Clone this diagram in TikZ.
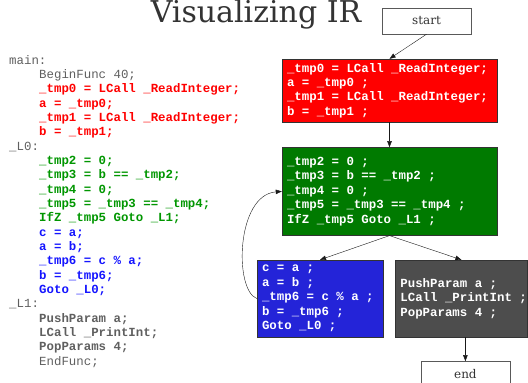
\documentclass[tikz,border=0pt]{standalone}
\usepackage{fontspec}
\setmainfont{DejaVu Serif}
\setmonofont{Liberation Mono}
\usetikzlibrary{arrows.meta,positioning}
\definecolor{codegray}{RGB}{95,95,95}
\definecolor{codered}{RGB}{255,0,0}
\definecolor{codegreen}{RGB}{0,150,0}
\definecolor{codeblue}{RGB}{20,20,255}
\definecolor{boxred}{RGB}{255,0,0}
\definecolor{boxgreen}{RGB}{0,122,0}
\definecolor{boxblue}{RGB}{36,36,216}
\definecolor{boxgray}{RGB}{77,77,77}
\newcommand{\ind}{\hspace*{30pt}}
\newcommand{\cl}[2]{\ind\textcolor{#1}{\textbf{#2}}}

\begin{document}
\begin{tikzpicture}[x=1pt,y=-1pt,node distance=25pt and 12pt,
  blk/.style={draw=black!80,text=white,align=flush left,inner xsep=5pt,inner ysep=0pt,font=\ttfamily\bfseries\fontsize{12.4}{14.4}\selectfont},
  term/.style={draw=black!65,minimum width=89pt,minimum height=26pt,inner sep=0pt,text=black!80,font=\fontsize{12}{14}\selectfont},
  arr/.style={-{Triangle[length=6pt,width=4.5pt]},black!90}]
\useasboundingbox (0,0) rectangle (528,383);

\node[text=black!80,font=\fontsize{30}{33}\selectfont,anchor=base] (title) at (256,22) {Visualizing IR};

% source listing
\node[anchor=north west,inner sep=0pt,align=left,text=codegray,font=\ttfamily\fontsize{12.4}{14.33}\selectfont] (code) at (9,55) {main:\\
\ind BeginFunc 40;\\
\cl{codered}{\_tmp0 = LCall \_ReadInteger;}\\
\cl{codered}{a = \_tmp0;}\\
\cl{codered}{\_tmp1 = LCall \_ReadInteger;}\\
\cl{codered}{b = \_tmp1;}\\
\_L0:\\
\cl{codegreen}{\_tmp2 = 0;}\\
\cl{codegreen}{\_tmp3 = b == \_tmp2;}\\
\cl{codegreen}{\_tmp4 = 0;}\\
\cl{codegreen}{\_tmp5 = \_tmp3 == \_tmp4;}\\
\cl{codegreen}{IfZ \_tmp5 Goto \_L1;}\\
\cl{codeblue}{c = a;}\\
\cl{codeblue}{a = b;}\\
\cl{codeblue}{\_tmp6 = c \% a;}\\
\cl{codeblue}{b = \_tmp6;}\\
\cl{codeblue}{Goto \_L0;}\\
\_L1:\\
\cl{codegray}{PushParam a;}\\
\cl{codegray}{LCall \_PrintInt;}\\
\cl{codegray}{PopParams 4;}\\
\ind EndFunc;};

% control flow graph
\node[term] (start) at (426.5,21) {start};
\node[blk,fill=boxred,text width=205pt,minimum height=63pt] (b0) at (389.5,90.5) {\_tmp0 = LCall \_ReadInteger;\\ a = \_tmp0 ;\\ \_tmp1 = LCall \_ReadInteger;\\ b = \_tmp1 ;};
\node[blk,fill=boxgreen,text width=205pt,minimum height=88pt,below=of b0] (b1) {\_tmp2 = 0 ;\\ \_tmp3 = b == \_tmp2 ;\\ \_tmp4 = 0 ;\\ \_tmp5 = \_tmp3 == \_tmp4 ;\\ IfZ \_tmp5 Goto \_L1 ;};
\node[blk,fill=boxblue,text width=116pt,minimum height=77pt] (b2) at (320,298.5) {c = a ;\\ a = b ;\\ \_tmp6 = c \% a ;\\ b = \_tmp6 ;\\ Goto \_L0 ;};
\node[blk,fill=boxgray,text width=122pt,minimum height=77pt,right=of b2] (b3) {PushParam~a~;\\ LCall~\_PrintInt~;\\ PopParams~4~;};
\node[term,below=24pt of b3,xshift=4pt] (finish) {end};

\draw[arr] (start.south) -- (b0.north);
\draw[arr] (b0) -- (b1);
\draw[arr] (b1.south) -- (b2.north);
\draw[arr] (b1.south) -- (b3.north);
\draw[arr] (finish.north |- b3.south) -- (finish.north);
\draw[arr] (b2.west) .. controls (234,290) and (236,195) .. (b1.west);
\end{tikzpicture}
\end{document}
